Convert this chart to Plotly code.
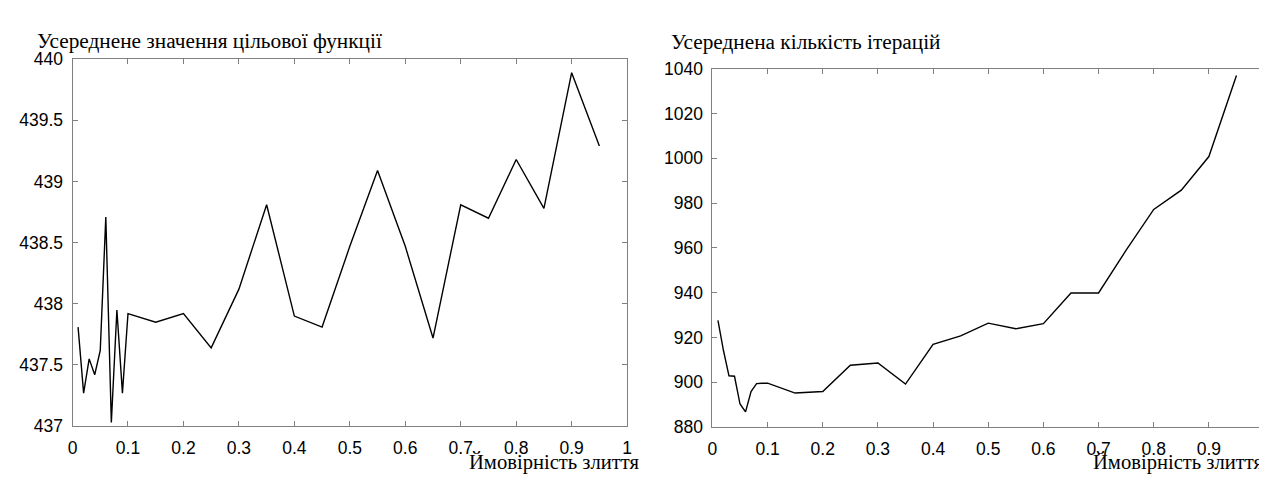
import plotly.graph_objects as go

# ---- data ----
prob = [0.01, 0.02, 0.03, 0.04, 0.05, 0.06, 0.07, 0.08, 0.09, 0.10,
        0.15, 0.20, 0.25, 0.30, 0.35, 0.40, 0.45, 0.50, 0.55, 0.60,
        0.65, 0.70, 0.75, 0.80, 0.85, 0.90, 0.95]

objective = [437.81, 437.27, 437.55, 437.42, 437.62, 438.71, 437.03, 437.95, 437.27, 437.92,
             437.85, 437.92, 437.64, 438.12, 438.81, 437.90, 437.81, 438.47, 439.09, 438.47,
             437.72, 438.81, 438.70, 439.18, 438.78, 439.89, 439.29]

iterations = [927.7, 914.2, 902.9, 902.7, 890.3, 886.8, 895.9, 899.4, 899.6, 899.6,
              895.2, 895.9, 907.6, 908.6, 899.2, 917.0, 920.7, 926.4, 923.9, 926.2,
              939.9, 939.9, 959.0, 977.2, 985.8, 1000.8, 1037.0]

x_ticks = [0, 0.1, 0.2, 0.3, 0.4, 0.5, 0.6, 0.7, 0.8, 0.9, 1]
x_tick_text = ["0", "0.1", "0.2", "0.3", "0.4", "0.5", "0.6", "0.7", "0.8", "0.9", "1"]
y1_ticks = [437, 437.5, 438, 438.5, 439, 439.5, 440]
y1_tick_text = ["437", "437.5", "438", "438.5", "439", "439.5", "440"]
y2_ticks = [880, 900, 920, 940, 960, 980, 1000, 1020, 1040]

title_left = "Усереднене значення цільової функції"
title_right = "Усереднена кількість ітерацій"
x_title = "Ймовірність злиття"

W, H = 1267, 477

fig = go.Figure()
fig.add_trace(go.Scatter(x=prob, y=objective, mode="lines",
                         line=dict(color="black", width=1.4),
                         xaxis="x", yaxis="y", showlegend=False))
fig.add_trace(go.Scatter(x=prob, y=iterations, mode="lines",
                         line=dict(color="black", width=1.4),
                         xaxis="x2", yaxis="y2", showlegend=False))

tick_font = dict(family="Liberation Sans, Arial, sans-serif", size=17.5, color="black")
axis_common = dict(showline=True, linecolor="#808080", linewidth=1, mirror="allticks",
                   ticks="inside", ticklen=5, tickcolor="#808080", tickwidth=1,
                   showgrid=False, zeroline=False, tickfont=tick_font)

def px_x(p):
    return p / W

def px_y(p):
    return 1 - p / H

fig.update_layout(
    width=W, height=H,
    margin=dict(l=0, r=0, t=0, b=0),
    paper_bgcolor="white", plot_bgcolor="white",
    xaxis=dict(domain=[px_x(60), px_x(619)], range=[0, 1], tickvals=x_ticks,
               ticktext=x_tick_text, anchor="y", ticklabelstandoff=6, **axis_common),
    yaxis=dict(domain=[px_y(426), px_y(43)], range=[437, 440], tickvals=y1_ticks,
               ticktext=y1_tick_text, anchor="x", ticklabelstandoff=5, **axis_common),
    xaxis2=dict(domain=[px_x(705), px_x(1261)], range=[0, 1], tickvals=x_ticks,
                ticktext=x_tick_text, anchor="y2", ticklabelstandoff=6, **axis_common),
    yaxis2=dict(domain=[px_y(427), px_y(53)], range=[880, 1040], tickvals=y2_ticks,
                anchor="x2", ticklabelstandoff=5, **axis_common),
)

serif = "Liberation Serif, Times New Roman, serif"
annotations = [
    dict(text=title_left, x=px_x(22), y=px_y(24), xanchor="left", yanchor="middle",
         font=dict(family=serif, size=21.3, color="black")),
    dict(text=title_right, x=px_x(661), y=px_y(25), xanchor="left", yanchor="middle",
         font=dict(family=serif, size=21.3, color="black")),
    dict(text=x_title, x=px_x(633), y=px_y(477), xanchor="right", yanchor="bottom",
         font=dict(family=serif, size=20.6, color="black"), borderpad=0),
    dict(text=x_title, x=px_x(1262), y=px_y(477), xanchor="right", yanchor="bottom",
         font=dict(family=serif, size=20.6, color="black"), borderpad=0),
]
for a in annotations:
    a.update(xref="paper", yref="paper", showarrow=False)
fig.update_layout(annotations=annotations)

fig.write_html("out.html")
